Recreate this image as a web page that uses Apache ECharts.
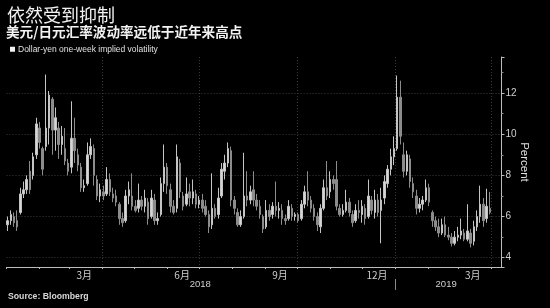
<!DOCTYPE html>
<html><head><meta charset="utf-8">
<script src="https://cdn.jsdelivr.net/npm/echarts@6/dist/echarts.min.js"></script>
<style>html,body{margin:0;padding:0;background:#000;}#c{width:550px;height:308px;}</style>
</head><body><div id="c"></div>
<script>
// ---- axis range / categories ----
const axisStart = '2018-01-01';
const axisEnd = '2019-04-11';
const sampleStart = '2018-01-02';
const sampleStepDays = 3;

// ---- series values, one candle per sample date ----
const openV = [5.6,5.8,6.0,5.8,6.2,7.1,7.3,8.2,8.0,9.0,10.3,9.3,9.4,10.3,11.7,10.2,10.3,9.5,9.3,8.6,8.4,9.8,9.0,8.4,7.4,7.6,
 9.0,9.3,7.8,7.0,7.2,7.1,7.8,7.1,7.0,6.6,5.9,5.8,7.0,7.0,6.5,6.4,6.8,6.5,6.7,6.0,6.8,5.8,6.1,7.6,8.4,7.3,
 6.5,6.4,8.6,7.0,6.6,7.2,6.9,7.1,6.6,6.8,6.5,6.1,5.6,6.4,6.1,7.0,8.2,8.6,9.2,6.8,6.2,5.6,6.0,7.0,6.8,
 7.3,6.8,6.5,6.0,5.5,6.3,6.1,6.5,6.3,6.3,5.9,5.9,6.4,6.0,6.1,5.9,6.6,7.2,6.8,6.4,6.0,5.5,6.4,7.4,7.2,7.8,
 7.8,6.4,6.1,6.3,6.7,6.1,5.8,6.3,6.1,6.4,6.0,6.8,6.2,6.8,6.3,6.9,7.6,8.3,8.9,9.3,11.8,9.0,8.2,8.8,7.6,7.0,
 6.4,6.6,6.8,7.4,6.2,5.8,5.5,5.2,5.6,5.1,5.0,4.7,5.0,5.1,5.2,4.9,5.2,4.8,5.5,6.0,6.6,5.9,6.4];
const closeV = [5.8,6.1,5.7,5.5,7.1,7.3,7.8,7.3,8.9,10.5,9.6,8.3,10.3,11.9,10.2,10.8,9.5,9.9,8.7,8.2,9.8,9.2,8.5,7.4,7.5,9.0,
 9.4,8.0,7.0,7.3,7.0,7.8,7.2,6.9,6.7,5.9,5.7,7.0,7.3,6.5,6.3,6.8,6.5,6.9,5.9,6.9,5.8,5.9,7.6,8.4,7.5,6.5,
 6.2,8.9,7.2,6.5,7.1,6.9,7.2,6.6,6.8,6.4,6.1,5.5,6.4,6.0,6.9,8.3,8.6,9.3,6.8,6.4,5.6,6.0,7.0,6.8,7.2,
 6.8,6.5,6.1,5.4,6.3,6.0,6.5,6.3,6.4,5.9,5.8,6.5,6.0,6.1,5.8,6.6,7.2,6.8,6.4,6.0,5.6,6.4,7.4,7.0,7.8,7.6,
 6.5,6.1,6.3,6.7,6.2,5.7,6.3,6.2,6.5,5.9,7.0,6.3,6.8,6.2,6.8,7.7,8.3,8.9,9.3,11.8,9.9,8.2,9.0,7.7,7.2,6.4,
 6.6,6.8,7.4,6.7,5.8,5.5,5.2,5.6,5.1,5.0,4.7,5.0,5.1,5.3,4.9,5.3,4.7,5.5,6.0,6.6,5.8,6.5,6.2];
const lowV = [5.3,5.6,5.5,5.3,6.1,6.9,7.1,7.1,7.8,8.8,9.3,8.0,9.2,9.5,9.0,9.2,8.8,9.0,8.5,8.0,8.1,8.6,8.2,7.2,7.2,7.5,
 8.8,7.5,6.8,6.7,6.8,7.0,7.0,6.7,6.5,5.6,5.5,5.7,6.6,6.3,6.2,6.2,6.3,6.2,5.6,5.9,5.6,5.6,6.0,7.2,7.1,6.2,
 6.1,6.2,6.9,6.3,6.5,6.5,6.6,6.4,6.4,6.2,6.0,5.2,5.4,5.9,5.9,6.9,7.8,8.4,6.5,6.1,5.5,5.5,5.9,6.5,6.6,
 6.5,6.3,5.9,5.2,5.4,5.8,5.9,6.0,5.9,5.6,5.6,5.8,5.8,5.8,5.7,5.8,6.4,6.5,6.2,5.8,5.3,5.2,6.3,6.8,6.9,7.3,
 6.3,6.0,6.0,6.2,6.0,5.5,5.7,5.9,5.7,5.6,5.9,6.1,5.9,6.0,4.7,6.6,7.4,8.0,8.5,9.2,9.5,7.9,8.0,7.4,6.9,6.1,
 6.2,6.3,6.7,6.5,5.5,5.3,5.0,5.1,5.0,4.85,4.55,4.6,4.8,4.9,4.8,4.8,4.5,4.6,5.3,5.7,5.5,5.7,6.1];
const highV = [6.0,6.3,6.2,6.3,7.4,7.7,8.0,8.7,9.1,10.8,10.6,9.4,12.9,12.1,11.8,11.3,10.6,10.4,10.3,8.8,11.6,10.8,9.3,8.6,7.8,9.6,
 9.8,9.5,8.0,7.6,7.5,8.4,8.1,7.4,7.3,6.7,6.2,7.3,7.7,8.1,6.8,7.6,7.0,7.3,6.9,7.3,7.1,6.2,7.9,9.5,8.6,7.6,
 6.8,9.5,8.8,7.2,7.9,7.6,7.8,7.3,7.0,7.1,6.8,6.3,8.1,6.6,7.4,8.6,9.0,9.6,9.4,7.0,6.4,6.3,9.1,8.2,7.5,
 8.2,7.1,6.8,6.1,6.8,6.6,6.7,7.7,6.7,6.6,6.1,6.8,6.6,6.2,6.2,6.8,7.5,8.2,7.0,6.6,6.2,6.6,7.8,8.7,8.2,8.0,
 8.7,6.6,6.6,7.3,6.9,6.3,6.6,6.8,6.8,6.6,7.8,7.0,7.3,7.1,7.4,8.0,8.5,9.3,9.9,12.85,12.6,9.6,9.2,9.0,7.9,7.3,
 6.9,7.0,7.8,7.6,6.3,6.0,5.9,5.9,6.0,5.5,5.2,5.3,5.5,5.9,5.4,6.6,5.4,5.8,6.3,7.5,6.9,7.35,7.2];

// ---- tick labels ----
const monthLabelDates = ['2018-03-15','2018-06-15','2018-09-15','2018-12-15','2019-03-15'];
const quarterLineDates = ['2018-04-01','2018-07-01','2018-10-01','2019-01-01','2019-04-01'];
const yearLabelDates = {'2018-07-02':'2018','2019-02-18':'2019'};
const yearSeparatorDate = '2019-01-01';
const titleText = '依然受到抑制';
const subtitleText = '美元/日元汇率波动率远低于近年来高点';
const legendText = 'Dollar-yen one-week implied volatility';
const sourceText = 'Source: Bloomberg';
const yName = 'Percent';

function iso(t){ return new Date(t).toISOString().slice(0,10); }
const DAY = 86400000;
const t0 = Date.parse(axisStart + 'T00:00:00Z');
const t1 = Date.parse(axisEnd + 'T00:00:00Z');
const categories = [];
for (let t = t0; t <= t1; t += DAY) categories.push(iso(t));

const sampleMap = {};
const ts = Date.parse(sampleStart + 'T00:00:00Z');
for (let i = 0; i < openV.length; i++) {
  sampleMap[iso(ts + i * sampleStepDays * DAY)] = [openV[i], closeV[i], lowV[i], highV[i]];
}
const candleData = categories.map(d => sampleMap[d] || '-');

const chart = echarts.init(document.getElementById('c'), null, {renderer:'canvas'});
const FONT = '"Liberation Sans", Arial, "Noto Sans CJK SC", sans-serif';
chart.setOption({
  backgroundColor: '#000',
  animation: false,
  title: [
    {text: titleText, left: 7, top: 6, padding: 0,
     textStyle: {color:'#f2f2f2', fontSize: 18, fontWeight: 'normal', fontFamily: '"Noto Sans CJK SC", sans-serif'}},
    {text: subtitleText, left: 6, top: 25, padding: 0,
     textStyle: {color:'#f2f2f2', fontSize: 13.6, fontWeight: 'bold', fontFamily: '"Noto Sans CJK SC", sans-serif'}},
    {text: sourceText, left: 8, top: 292, padding: 0,
     textStyle: {color:'#d8d8d8', fontSize: 8.7, fontWeight: 'bold', fontFamily: FONT}}
  ],
  legend: {
    left: 10, top: 45, padding: 0, itemWidth: 5, itemHeight: 5, itemGap: 3,
    icon: 'rect',
    data: [{name: legendText, itemStyle: {color: '#f2f2f2', borderWidth: 0}}],
    textStyle: {color: '#e0e0e0', fontSize: 8.5, fontFamily: FONT, padding: [0,0,0,-2]}
  },
  grid: {left: 6.5, right: 48.5, top: 57, bottom: 41, containLabel: false},
  xAxis: [
    {
      type: 'category', data: categories, boundaryGap: false,
      axisLine: {show: true, lineStyle: {color: '#bdbdbd', width: 1}},
      axisTick: {show: true, length: 2, interval: (i, v) => v.slice(8) === '01', lineStyle: {color: '#bdbdbd'}},
      axisLabel: {show: true, interval: (i, v) => monthLabelDates.indexOf(v) >= 0,
        formatter: v => parseInt(v.slice(5,7),10) + '月', color: '#cfcfcf', fontSize: 10, margin: 3,
        fontFamily: '"Noto Sans CJK SC", sans-serif'},
      splitLine: {show: true, interval: (i, v) => quarterLineDates.indexOf(v) >= 0,
        lineStyle: {color: '#3a3a3a', type: [1, 2], width: 1}}
    },
    {
      type: 'category', data: categories, boundaryGap: false, position: 'bottom', offset: 12,
      axisLine: {show: false},
      axisTick: {show: true, length: 11, interval: (i, v) => v === yearSeparatorDate, lineStyle: {color: '#8a8a8a'}},
      axisLabel: {show: true, interval: (i, v) => yearLabelDates[v] !== undefined,
        formatter: v => yearLabelDates[v] || '', color: '#cfcfcf', fontSize: 9.5, margin: 1, fontFamily: FONT},
      splitLine: {show: false}
    }
  ],
  yAxis: {
    type: 'value', position: 'right', min: 3.55, max: 13.75, splitNumber: 5, scale: true,
    name: yName, nameLocation: 'middle', nameRotate: -90, nameGap: 17, nameMoveOverlap: false,
    nameTextStyle: {color: '#e0e0e0', fontSize: 11.5, fontFamily: FONT},
    axisLine: {show: true, lineStyle: {color: '#bdbdbd'}},
    axisTick: {show: true, length: 3, lineStyle: {color: '#bdbdbd'}},
    minorTick: {show: true, splitNumber: 2, length: 2, lineStyle: {color: '#8a8a8a'}},
    axisLabel: {color: '#cfcfcf', fontSize: 10, margin: 4, fontFamily: FONT,
      showMinLabel: false, showMaxLabel: false,
      formatter: v => (Math.abs(v - Math.round(v)) < 1e-6 && Math.round(v) % 2 === 0) ? String(Math.round(v)) : ''},
    splitLine: {show: true, lineStyle: {color: ['transparent','#3a3a3a','#3a3a3a','#3a3a3a','#3a3a3a','#3a3a3a','transparent'], type: [1, 2]}}
  },
  series: [{
    name: legendText, type: 'candlestick', xAxisIndex: 0, data: candleData,
    barWidth: 2,
    itemStyle: {color: '#d6d6d6', color0: '#8c8c8c', borderColor: '#c4c4c4', borderColor0: '#8c8c8c', borderWidth: 1}
  }]
});
</script></body></html>
